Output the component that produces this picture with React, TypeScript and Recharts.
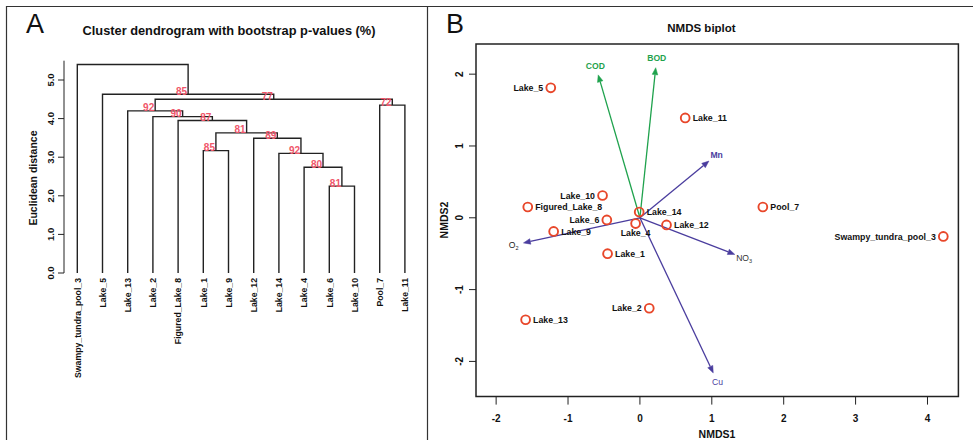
import React from 'react';
import { ComposedChart, Line, Scatter, XAxis, YAxis, ReferenceLine, ReferenceArea } from 'recharts';

const FONT = '"Liberation Sans", Arial, Helvetica, sans-serif';

// ---------------- Panel A: cluster dendrogram ----------------
const leafLabels = [
  'Swampy_tundra_pool_3', 'Lake_5', 'Lake_13', 'Lake_2', 'Figured_Lake_8', 'Lake_1', 'Lake_9',
  'Lake_12', 'Lake_14', 'Lake_4', 'Lake_6', 'Lake_10', 'Pool_7', 'Lake_11',
];
// hclust-style merge table: negative = leaf (1-based position in leafLabels), positive = earlier merge (1-based)
const mergeLeft = [-11, -10, -9, -6, -8, 4, -5, -4, -3, -13, 9, -2, -1];
const mergeRight = [-12, 1, 2, -7, 3, 5, 6, 7, 8, -14, 10, 11, 12];
const mergeHeight = [2.25, 2.74, 3.1, 3.17, 3.49, 3.63, 3.95, 4.05, 4.2, 4.35, 4.5, 4.63, 5.4];
const bootstrapAU: (number | null)[] = [81, 80, 92, 85, 89, 81, 87, 90, 92, 72, 77, 85, null];
const distanceTicks = [0, 1, 2, 3, 4, 5];

// ---------------- Panel B: NMDS biplot ----------------
const siteNames = [
  'Lake_5', 'Lake_11', 'Lake_10', 'Figured_Lake_8', 'Lake_6', 'Lake_14', 'Lake_4',
  'Lake_12', 'Lake_9', 'Lake_1', 'Lake_2', 'Pool_7', 'Swampy_tundra_pool_3', 'Lake_13',
];
const nmds1 = [-1.24, 0.63, -0.52, -1.56, -0.46, -0.01, -0.06, 0.37, -1.2, -0.45, 0.13, 1.71, 4.22, -1.59];
const nmds2 = [1.81, 1.39, 0.31, 0.15, -0.03, 0.08, -0.08, -0.1, -0.19, -0.5, -1.26, 0.15, -0.26, -1.42];
const envNames = ['COD', 'BOD', 'Mn', 'O2', 'NO3', 'Cu'];
const envX = [-0.58, 0.22, 0.96, -1.62, 1.32, 1.02];
const envY = [1.99, 2.09, 0.79, -0.35, -0.51, -2.16];
const nmds1Ticks = [-2, -1, 0, 1, 2, 3, 4];
const nmds2Ticks = [-2, -1, 0, 1, 2];

// view windows
const distLim: [number, number] = [0, 5.5];
const leafLim: [number, number] = [-0.528, 13.5];
const xLim: [number, number] = [-2.28, 4.43];
const yLim: [number, number] = [-2.49, 2.42];

// label placement (style)
const labelSide: Record<string, string> = {
  Lake_5: 'left', Lake_10: 'left', Lake_6: 'left', Lake_2: 'left', Swampy_tundra_pool_3: 'left', Lake_4: 'below',
};
const GREEN = '#1fa24d';
const BLUE = '#4a3d9e';
const envColor: Record<string, string> = { COD: GREEN, BOD: GREEN, Mn: BLUE, O2: BLUE, NO3: BLUE, Cu: BLUE };
const envTextColor: Record<string, string> = { COD: GREEN, BOD: GREEN, Mn: BLUE, O2: '#222', NO3: '#333', Cu: BLUE };
const envTextBold: Record<string, boolean> = { COD: true, BOD: true, Mn: true, O2: false, NO3: false, Cu: false };

function buildDendrogram() {
  const nodes: { x: number; h: number }[] = [];
  const get = (ref: number) => (ref < 0 ? { x: -ref - 1, h: 0 } : nodes[ref - 1]);
  const segments: { x: number; y: number }[][] = [];
  const au: { x: number; y: number; au: number }[] = [];
  mergeHeight.forEach((h, i) => {
    const a = get(mergeLeft[i]);
    const b = get(mergeRight[i]);
    const node = { x: (a.x + b.x) / 2, h };
    nodes.push(node);
    segments.push([
      { x: a.x, y: a.h },
      { x: a.x, y: h },
      { x: b.x, y: h },
      { x: b.x, y: b.h },
    ]);
    const v = bootstrapAU[i];
    if (v != null) au.push({ x: node.x, y: h, au: v });
  });
  return { segments, au };
}

const LeafTick = (p: any) => {
  const { x, y, payload } = p;
  const tx = x + 3.3;
  const ty = y + 5;
  return (
    <text x={tx} y={ty} transform={`rotate(-90 ${tx} ${ty})`} textAnchor="end" fontFamily={FONT}
      fontWeight="bold" fontSize={8.7} fill="#111">
      {leafLabels[payload.value]}
    </text>
  );
};

const DistTick = (p: any) => {
  const { x, y, payload } = p;
  const tx = x - 2;
  return (
    <text x={tx} y={y} transform={`rotate(-90 ${tx} ${y})`} textAnchor="middle" fontFamily={FONT}
      fontWeight="bold" fontSize={9.5} fill="#111">
      {Number(payload.value).toFixed(1)}
    </text>
  );
};

const AuShape = (p: any) => {
  const { cx, cy, payload } = p;
  return (
    <text x={cx - 6.5} y={cy + 0.5} textAnchor="middle" fontFamily={FONT} fontWeight="bold" fontSize={10}
      fill="#f0566a">
      {payload.au}
    </text>
  );
};

const XTick = (p: any) => {
  const { x, y, payload } = p;
  return (
    <text x={x} y={y + 15} textAnchor="middle" fontFamily={FONT} fontWeight="bold" fontSize={10} fill="#111">
      {payload.value}
    </text>
  );
};

const YTick = (p: any) => {
  const { x, y, payload } = p;
  const tx = x - 4;
  return (
    <text x={tx} y={y} transform={`rotate(-90 ${tx} ${y})`} textAnchor="middle" fontFamily={FONT}
      fontWeight="bold" fontSize={10} fill="#111">
      {payload.value}
    </text>
  );
};

const SiteShape = (p: any) => {
  const { cx, cy, payload } = p;
  const side = labelSide[payload.name] || 'right';
  let tx = cx + 7.5;
  let ty = cy + 3.2;
  let anchor: 'start' | 'end' | 'middle' = 'start';
  if (side === 'left') {
    tx = cx - 7.5;
    anchor = 'end';
  } else if (side === 'below') {
    tx = cx;
    ty = cy + 12.8;
    anchor = 'middle';
  }
  return (
    <g>
      <circle cx={cx} cy={cy} r={4.4} fill="none" stroke="#e8472a" strokeWidth={1.9} />
      <text x={tx} y={ty} textAnchor={anchor} fontFamily={FONT} fontWeight="bold" fontSize={8.8} fill="#111">
        {payload.name}
      </text>
    </g>
  );
};

const envLabel = (name: string) => {
  const m = name.match(/^([A-Za-z]+)(\d)$/);
  if (!m) return name;
  return (
    <>
      {m[1]}
      <tspan fontSize={5.5} dy={2}>{m[2]}</tspan>
    </>
  );
};

const arrowShape = (i: number) => (p: any) => {
  const { x1, y1, x2, y2 } = p;
  const name = envNames[i];
  const col = envColor[name];
  const dx = x2 - x1;
  const dy = y2 - y1;
  const len = Math.sqrt(dx * dx + dy * dy) || 1;
  const ux = dx / len;
  const uy = dy / len;
  const hl = 7;
  const hw = 2.8;
  const bx = x2 - ux * hl;
  const by = y2 - uy * hl;
  const pts = `${x2},${y2} ${bx - uy * hw},${by + ux * hw} ${bx + uy * hw},${by - ux * hw}`;
  const lx = x2 + ux * 10;
  const ly = y2 + uy * 10 + 3.3;
  return (
    <g>
      <line x1={x1} y1={y1} x2={bx} y2={by} stroke={col} strokeWidth={1.3} />
      <polygon points={pts} fill={col} stroke={col} strokeWidth={0.5} />
      <text x={lx} y={ly} textAnchor="middle" fontFamily={FONT} fontSize={8.6}
        fontWeight={envTextBold[name] ? 'bold' : 'normal'} fill={envTextColor[name]}>
        {envLabel(name)}
      </text>
    </g>
  );
};

export default function App() {
  const { segments, au } = buildDendrogram();
  const leafTicks = leafLabels.map((_, i) => i);
  const sites = siteNames.map((name, i) => ({ x: nmds1[i], y: nmds2[i], name }));
  return (
    <div style={{ position: 'absolute', left: 0, top: 0, width: 973, height: 440, background: '#fff', overflow: 'hidden' }}>
      <div style={{ position: 'absolute', left: 0, top: 0 }}>
        <ComposedChart width={428} height={440} margin={{ top: 60.7, right: 10.5, bottom: 166, left: 24 }}>
          <XAxis type="number" dataKey="x" domain={leafLim} allowDataOverflow ticks={leafTicks} interval={0}
            height={1} axisLine={false} tickLine={false} tickSize={0} tickMargin={0} tick={LeafTick} />
          <YAxis type="number" dataKey="y" domain={distLim} allowDataOverflow ticks={distanceTicks} interval={0}
            width={40} tickSize={6} tickMargin={2} stroke="#222" tick={DistTick} />
          {segments.map((seg, i) => (
            <Line key={i} data={seg} dataKey="y" type="linear" stroke="#222" strokeWidth={1.4} dot={false}
              activeDot={false} isAnimationActive={false} />
          ))}
          <Scatter data={au} isAnimationActive={false} shape={AuShape} />
        </ComposedChart>
      </div>
      <div style={{ position: 'absolute', left: 428, top: 0 }}>
        <ComposedChart width={545} height={440} margin={{ top: 44, right: 14.6, bottom: 3.4, left: 18 }}>
          <XAxis type="number" dataKey="x" domain={xLim} allowDataOverflow ticks={nmds1Ticks} interval={0}
            height={40} axisLine={false} tickSize={8} tickMargin={2} stroke="#222" tick={XTick} />
          <YAxis type="number" dataKey="y" domain={yLim} allowDataOverflow ticks={nmds2Ticks} interval={0}
            width={30} axisLine={false} tickSize={7} tickMargin={2} stroke="#222" tick={YTick} />
          <ReferenceArea x1={xLim[0]} x2={xLim[1]} y1={yLim[0]} y2={yLim[1]} fill="none" fillOpacity={0}
            stroke="#222" strokeWidth={1.5} ifOverflow="visible" />
          {envNames.map((n, i) => (
            <ReferenceLine key={n} segment={[{ x: 0, y: 0 }, { x: envX[i], y: envY[i] }]} ifOverflow="visible"
              shape={arrowShape(i)} />
          ))}
          <Scatter data={sites} isAnimationActive={false} shape={SiteShape} />
        </ComposedChart>
      </div>
      <svg width={973} height={440} style={{ position: 'absolute', left: 0, top: 0, pointerEvents: 'none' }}>
        <line x1={6} y1={6.5} x2={973} y2={6.5} stroke="#333" strokeWidth={1.2} />
        <line x1={6.5} y1={6} x2={6.5} y2={440} stroke="#333" strokeWidth={1.2} />
        <line x1={427.5} y1={6} x2={427.5} y2={440} stroke="#333" strokeWidth={1.2} />
        <text x={26} y={33} fontFamily={FONT} fontSize={27} fill="#111">A</text>
        <text x={446} y={33} fontFamily={FONT} fontSize={27} fill="#111">B</text>
        <text x={229} y={35} textAnchor="middle" fontFamily={FONT} fontWeight="bold" fontSize={12.8} fill="#111">
          Cluster dendrogram with bootstrap p-values (%)
        </text>
        <text x={37} y={178} transform="rotate(-90 37 178)" textAnchor="middle" fontFamily={FONT} fontWeight="bold"
          fontSize={10.5} fill="#111">
          Euclidean distance
        </text>
        <text x={701.5} y={32} textAnchor="middle" fontFamily={FONT} fontWeight="bold" fontSize={11.5} fill="#111">
          NMDS biplot
        </text>
        <text x={717} y={437.5} textAnchor="middle" fontFamily={FONT} fontWeight="bold" fontSize={10.5} fill="#111">
          NMDS1
        </text>
        <text x={448} y={220} transform="rotate(-90 448 220)" textAnchor="middle" fontFamily={FONT} fontWeight="bold"
          fontSize={10.5} fill="#111">
          NMDS2
        </text>
      </svg>
    </div>
  );
}
